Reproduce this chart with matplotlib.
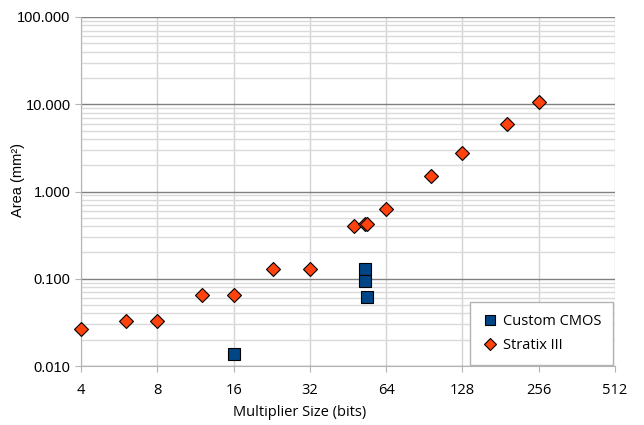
import numpy as np
import matplotlib
matplotlib.use('Agg')
import matplotlib.pyplot as plt
from matplotlib.ticker import FixedLocator, FixedFormatter, LogLocator, NullFormatter

# values
cmos_bits = [16, 53, 53, 54]
cmos_area = [0.0138, 0.129, 0.094, 0.061]
stratix_bits = [4, 6, 8, 12, 16, 23, 32, 48, 53, 54, 64, 96, 128, 192, 256]
stratix_area = [0.0264, 0.0325, 0.0325, 0.065, 0.065, 0.129, 0.129,
                0.405, 0.421, 0.426, 0.625, 1.51, 2.74, 5.89, 10.5]
x_ticks = [4, 8, 16, 32, 64, 128, 256, 512]
y_ticks = [0.01, 0.1, 1, 10, 100]
y_labels = ['0.010', '0.100', '1.000', '10.000', '100.000']

fig = plt.figure(figsize=(6.44, 4.25), dpi=100)
ax = fig.add_axes([0.1258, 0.1388, 0.829, 0.8212])

ax.set_xscale('log', base=2)
ax.set_yscale('log')
ax.set_xlim(4, 512)
ax.set_ylim(0.01, 100)

ax.xaxis.set_major_locator(FixedLocator(x_ticks))
ax.xaxis.set_major_formatter(FixedFormatter([str(v) for v in x_ticks]))
ax.xaxis.set_minor_locator(FixedLocator([]))
ax.yaxis.set_major_locator(FixedLocator(y_ticks))
ax.yaxis.set_major_formatter(FixedFormatter(y_labels))
ax.yaxis.set_minor_locator(LogLocator(base=10, subs=np.arange(2, 10)))
ax.yaxis.set_minor_formatter(NullFormatter())

ax.grid(True, axis='x', which='major', color='#d4d4d4', lw=1)
ax.grid(True, axis='y', which='major', color='#808080', lw=1)
ax.grid(True, axis='y', which='minor', color='#dadada', lw=1)
ax.set_axisbelow(True)

for s in ['top', 'right']:
    ax.spines[s].set_visible(False)
ax.spines['left'].set_color('#b3b3b3')
ax.spines['bottom'].set_color('#b3b3b3')

ax.tick_params(axis='both', which='major', length=4, color='#b3b3b3',
               labelsize=10.5)
ax.tick_params(axis='x', pad=8)
ax.tick_params(axis='y', pad=3.5)
ax.tick_params(axis='y', which='minor', length=0)
for lab in ax.get_xticklabels():
    lab.set_fontfamily('Open Sans')
for lab in ax.get_yticklabels():
    lab.set_fontfamily('Liberation Sans')

ax.plot(cmos_bits, cmos_area, 's', ms=8.5, mfc='#004586', mec='black',
        mew=0.8, label='Custom CMOS', clip_on=False, zorder=3)
ax.plot(stratix_bits, stratix_area, 'D', ms=7.5, mfc='#ff420e', mec='black',
        mew=0.8, label='Stratix III', clip_on=False, zorder=3)

ax.set_xlabel('Multiplier Size (bits)', fontfamily='Open Sans', fontsize=10.5)
ax.xaxis.set_label_coords(0.41, -0.112)
ax.set_ylabel('Area (mm²)', fontfamily='Liberation Sans', fontsize=10.5)
ax.yaxis.set_label_coords(-0.105, 0.533)

leg = ax.legend(loc='lower right', bbox_to_anchor=(1.0, 0.0), borderaxespad=0.1,
                fancybox=False, framealpha=1, edgecolor='#b3b3b3',
                prop={'family': 'Open Sans', 'size': 10.5},
                handletextpad=0.3, borderpad=0.8, labelspacing=0.6,
                handlelength=1.2, markerscale=0.8)
leg.get_frame().set_linewidth(1)

plt.savefig('out.png', dpi=100)
